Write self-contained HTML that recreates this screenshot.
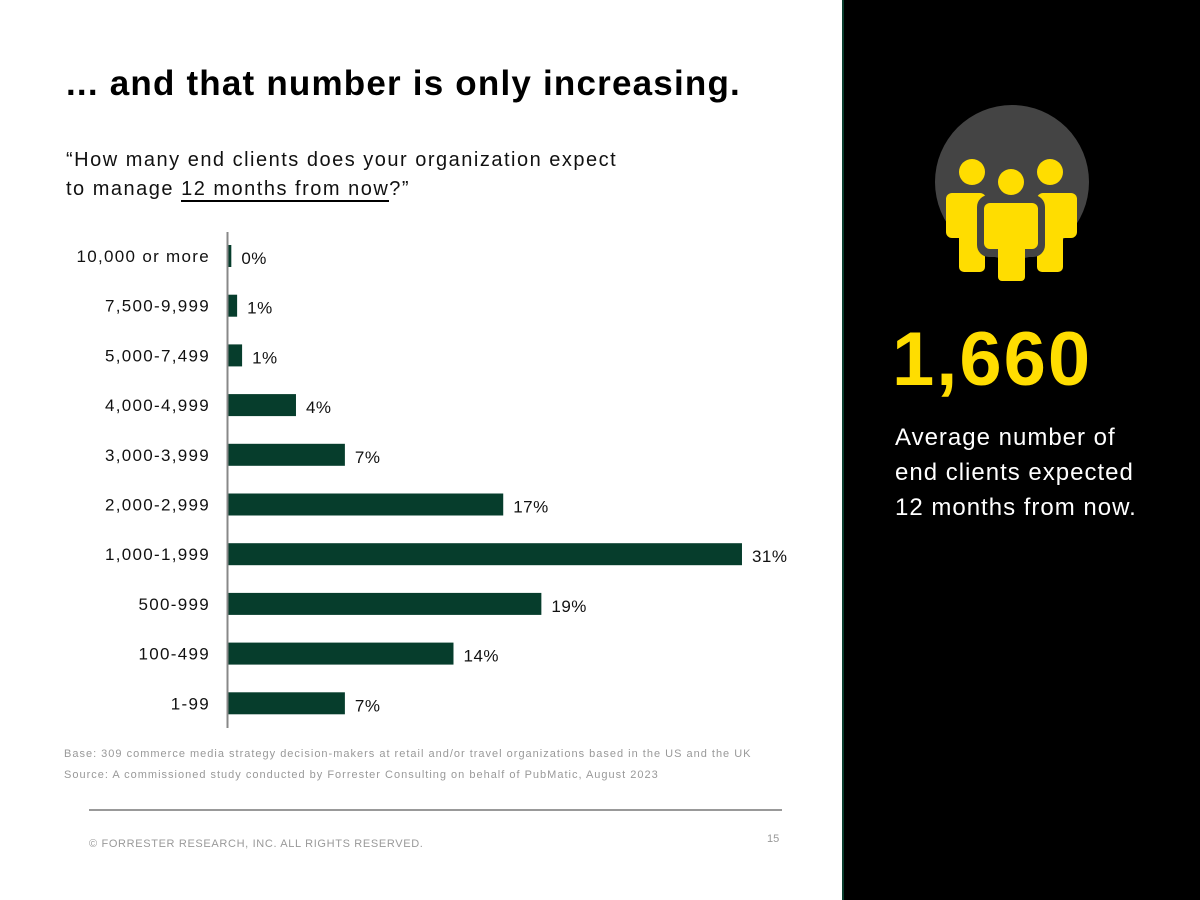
<!DOCTYPE html>
<html><head><meta charset="utf-8"><style>
body{margin:0;width:1200px;height:900px;position:relative;background:#fff;font-family:"Liberation Sans",sans-serif;overflow:hidden}
.a{position:absolute;white-space:nowrap}
</style></head><body>
<div class="a" style="left:66px;top:64px;font-size:35px;font-weight:bold;color:#000;letter-spacing:1.2px">... and that number is only increasing.</div>
<div class="a" style="left:66px;top:146px;font-size:20px;line-height:29px;color:#111;letter-spacing:1.5px">“How many end clients does your organization expect<br>to manage <span style="border-bottom:2px solid #000">12 months from now</span>?”</div>
<svg class="a" id="chart" style="left:0;top:0" width="840" height="740"></svg>
<div class="a" style="left:64px;top:748px;font-size:11px;color:#999;letter-spacing:1px">Base: 309 commerce media strategy decision-makers at retail and/or travel organizations based in the US and the UK</div>
<div class="a" style="left:64px;top:769px;font-size:11px;color:#999;letter-spacing:1px">Source: A commissioned study conducted by Forrester Consulting on behalf of PubMatic, August 2023</div>
<div class="a" style="left:89px;top:809px;width:693px;height:2px;background:#999"></div>
<div class="a" style="left:89px;top:838px;font-size:11px;color:#999;letter-spacing:0.65px">© FORRESTER RESEARCH, INC. ALL RIGHTS RESERVED.</div>
<div class="a" style="left:767px;top:833px;font-size:11px;color:#999">15</div>
<div class="a" style="left:842px;top:0;width:358px;height:900px;background:#000;border-left:2px solid #0b3d2e;box-sizing:border-box"></div>
<svg class="a" style="left:900px;top:90px" width="220" height="220" viewBox="900 90 220 220">
<circle cx="1012" cy="182" r="77" fill="#444"/>
<circle cx="972" cy="172" r="13" fill="#fd0"/>
<circle cx="1050" cy="172" r="13" fill="#fd0"/>
<rect x="946" y="193" width="40" height="45" rx="6" fill="#fd0"/>
<rect x="959" y="220" width="26" height="52" rx="5" fill="#fd0"/>
<rect x="1037" y="193" width="40" height="45" rx="6" fill="#fd0"/>
<rect x="1037" y="220" width="26" height="52" rx="5" fill="#fd0"/>
<rect x="977" y="195" width="68" height="62" rx="12" fill="#444"/>
<circle cx="1011" cy="182" r="15" fill="#444"/>
<circle cx="1011" cy="182" r="13" fill="#fd0"/>
<rect x="984" y="203" width="54" height="46" rx="6" fill="#fd0"/>
<rect x="998" y="230" width="27" height="51" rx="4" fill="#fd0"/>
</svg>
<div class="a" style="left:892px;top:316px;font-size:76px;font-weight:bold;color:#fd0;letter-spacing:2px">1,660</div>
<div class="a" style="left:895px;top:420px;font-size:24px;line-height:35px;color:#fff;letter-spacing:1px">Average number of<br>end clients expected<br>12 months from now.</div>
<script>
const categories=["10,000 or more","7,500-9,999","5,000-7,499","4,000-4,999","3,000-3,999","2,000-2,999","1,000-1,999","500-999","100-499","1-99"];
const values=[0.2,0.55,0.85,4.1,7.05,16.6,31,18.9,13.6,7.05];
const valueLabels=["0%","1%","1%","4%","7%","17%","31%","19%","14%","7%"];
const svg=document.getElementById('chart');const NS="http://www.w3.org/2000/svg";
const x0=228,pxPer=16.58,y0=256,step=49.7,bh=22;
const xs=v=>x0+v*pxPer, ys=i=>y0+i*step;
function mk(t,a){const e=document.createElementNS(NS,t);for(const k in a)e.setAttribute(k,a[k]);svg.appendChild(e);return e;}
categories.forEach((c,i)=>{
 const r=mk('rect',{x:x0,y:ys(i)-bh/2,width:xs(values[i])-x0,height:bh,fill:'#063d2c'});
 
 
 const t=mk('text',{x:210,y:ys(i)+6,'text-anchor':'end','font-size':17,fill:'#111','letter-spacing':1.3});t.textContent=c;
 
 
 const v=mk('text',{x:xs(values[i])+10,y:ys(i)+8,'font-size':17,fill:'#111','letter-spacing':0.5});v.textContent=valueLabels[i];
 
 
});
const ax=mk('line',{x1:x0-0.5,x2:x0-0.5,y1:232,y2:728,stroke:'#888','stroke-width':2});


</script>
</body></html>
